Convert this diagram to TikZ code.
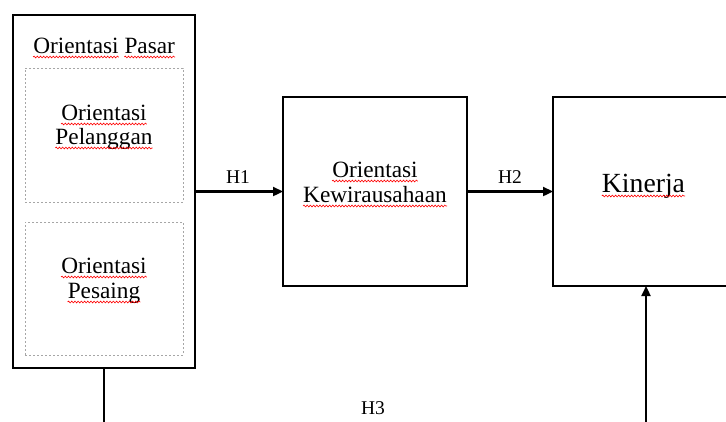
\documentclass[tikz,border=0pt]{standalone}
\usepackage{fontspec}
\setmainfont{Liberation Serif}
\usetikzlibrary{arrows.meta,decorations.pathmorphing}

% red wavy underline below a word node
\newcommand\redwave[1]{\draw[squig] ([yshift=-4pt]#1.base west) -- ([yshift=-4pt]#1.base east);}

\begin{document}
\begin{tikzpicture}[x=1pt,y=-1pt,
  frame/.style={draw=black, line width=2.7pt, inner sep=0pt, outer sep=0pt},
  subframe/.style={draw=gray!70, line width=1pt, dash pattern=on 2pt off 2pt, inner sep=0pt},
  word/.style={anchor=base, inner sep=0pt, font=\fontsize{23.3}{26}\selectfont},
  bigword/.style={anchor=base, inner sep=0pt, font=\fontsize{27.7}{30}\selectfont},
  hlabel/.style={anchor=base, inner sep=0pt, font=\fontsize{19.5}{22}\selectfont},
  link/.style={draw=black, line width=2.3pt},
  arr/.style={link, -{Triangle[length=10pt,width=9pt]}},
  squig/.style={draw=red, line width=0.6pt, decorate,
    decoration={snake, amplitude=0.9pt, segment length=3.2pt}}]

  \fill[white] (0,0) rectangle (726,421);
  \useasboundingbox (0,0) rectangle (726,421);
  \clip (0,0) rectangle (726,421);

  % boxes
  \node[frame, minimum width=182pt, minimum height=353pt] (pasar) at (104,191.5) {};
  \node[subframe, minimum width=158pt, minimum height=134pt] (pel) at (104,135) {};
  \node[subframe, minimum width=158pt, minimum height=133pt] (pes) at (104,288.5) {};
  \node[frame, minimum width=184pt, minimum height=189pt] (kew) at (375,191.5) {};
  \node[frame, minimum width=220pt, minimum height=189pt] (kin) at (663,191.5) {};

  % box texts
  \node[word, anchor=base west] (op1) at (33.1,53) {Orientasi};
  \node[word, anchor=base west] (op2) at (124.3,53) {Pasar};
  \node[word] (pl1) at (104,120) {Orientasi};
  \node[word] (pl2) at (104,144) {Pelanggan};
  \node[word] (ps1) at (104,273) {Orientasi};
  \node[word] (ps2) at (104,298) {Pesaing};
  \node[word] (kw1) at (375,177) {Orientasi};
  \node[word] (kw2) at (375,202) {Kewirausahaan};
  \node[bigword] (kn) at (643.5,192) {Kinerja};

  \foreach \w in {op1,op2,pl1,pl2,ps1,ps2,kw1,kw2,kn} {\redwave{\w}}

  % connectors
  \draw[arr] (pasar.east) -- (kew.west);
  \draw[arr] (kew.east) -- (kin.west);
  \coordinate (pfoot) at (104,430);
  \coordinate (kfoot) at (646,430);
  \draw[link] (pasar.south) -- (pfoot);
  \draw[arr] (kfoot) -- (kfoot |- kin.south);

  % hypothesis labels
  \node[hlabel] (h1) at (238,183) {H1};
  \node[hlabel] (h2) at (510,183) {H2};
  \node[hlabel] (h3) at (373,414) {H3};
\end{tikzpicture}
\end{document}
